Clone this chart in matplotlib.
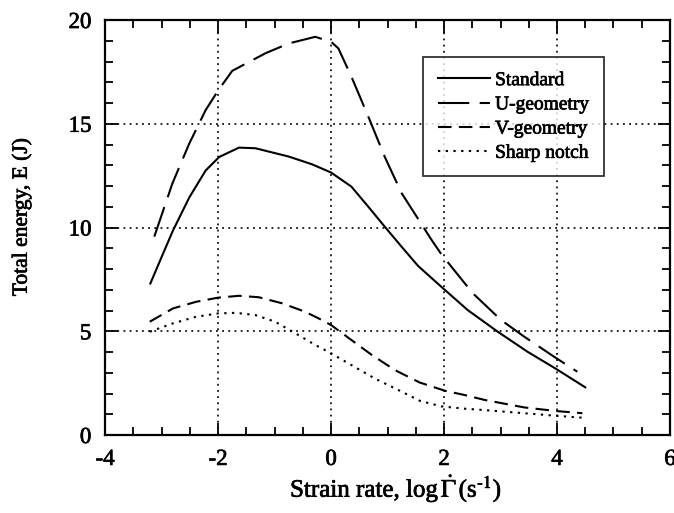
import matplotlib
matplotlib.use('Agg')
import matplotlib.pyplot as plt
import matplotlib.patheffects as pe
from matplotlib.ticker import MultipleLocator

plt.rcParams['font.family'] = 'Liberation Serif'
plt.rcParams['mathtext.fontset'] = 'stix'

# curves: log strain rate vs total energy (J)
std_x = [-3.2, -2.95, -2.8, -2.51, -2.22, -1.98, -1.63, -1.34, -0.75, -0.34, 0.0, 0.36, 0.66, 0.95,
         1.25, 1.54, 1.97, 2.42, 2.95, 3.48, 3.97, 4.5]
std_y = [7.3, 8.9, 9.85, 11.45, 12.75, 13.4, 13.85, 13.82, 13.42, 13.05, 12.65, 11.97, 11.0, 10.04,
         9.07, 8.15, 7.1, 6.02, 4.98, 4.01, 3.21, 2.3]

u_x = [-3.13, -2.81, -2.51, -2.22, -2.0, -1.75, -1.16, -0.75, -0.28, 0.0, 0.13, 0.36, 0.66, 0.95,
       1.25, 1.78, 1.95, 2.51, 3.01, 3.42, 3.95, 4.36]
u_y = [9.56, 12.12, 14.05, 15.66, 16.6, 17.55, 18.4, 18.87, 19.19, 18.95, 18.63, 17.27, 15.34, 13.41,
       11.65, 9.4, 8.72, 6.83, 5.54, 4.74, 3.77, 3.05]

v_x = [-3.21, -2.8, -2.39, -2.0, -1.63, -1.28, -0.87, -0.46, -0.22, 0.0, 0.36, 0.72, 1.13, 1.57,
       2.02, 2.36, 2.72, 3.42, 3.97, 4.45]
v_y = [5.46, 6.1, 6.42, 6.62, 6.71, 6.64, 6.35, 5.94, 5.62, 5.3, 4.58, 3.86, 3.13, 2.53,
       2.13, 1.93, 1.69, 1.33, 1.16, 1.05]

sn_x = [-3.21, -2.8, -2.39, -2.0, -1.69, -1.34, -0.99, -0.63, -0.28, 0.0, 0.36, 0.77, 1.19, 1.57,
        1.95, 2.36, 2.72, 3.42, 3.97, 4.47]
sn_y = [4.98, 5.38, 5.7, 5.86, 5.89, 5.78, 5.46, 4.9, 4.34, 3.94, 3.37, 2.73, 2.17, 1.65,
        1.38, 1.27, 1.2, 1.05, 0.93, 0.83]

ink = [pe.withStroke(linewidth=0.5, foreground='black')]

fig = plt.figure(figsize=(6.74, 5.13), dpi=100)
ax = fig.add_axes([0.156, 0.152, 0.838, 0.809])

ax.plot(std_x, std_y, color='black', lw=1.5, ls='-', label='Standard')
ax.plot(u_x, u_y, color='black', lw=1.5, ls=(0, (15, 5)), label='U-geometry')
ax.plot(v_x, v_y, color='black', lw=1.5, ls=(0, (6.5, 3.5)), label='V-geometry')
ax.plot(sn_x, sn_y, color='black', lw=1.5, ls=(0, (1.1, 2.6)), label='Sharp notch')

ax.set_xlim(-4, 6)
ax.set_ylim(0, 20)
ax.xaxis.set_major_locator(MultipleLocator(2))
ax.xaxis.set_minor_locator(MultipleLocator(0.5))
ax.yaxis.set_major_locator(MultipleLocator(5))
ax.yaxis.set_minor_locator(MultipleLocator(1))
ax.tick_params(which='both', direction='in', top=True, right=True, width=1.3, labelsize=16.5)
ax.tick_params(axis='x', which='both', pad=10)
ax.tick_params(axis='y', which='both', pad=10)
ax.tick_params(which='major', length=9)
ax.tick_params(which='minor', length=6)
ax.set_xticks([-4, -2, 0, 2, 4, 6])
ax.set_xticklabels(['-4', '-2', '0', '2', '4', '6'])
ax.grid(True, which='major', color='black', ls=(0, (1.1, 2.6)), lw=1.2)
for s in ax.spines.values():
    s.set_linewidth(1.6)
for t in ax.get_xticklabels() + ax.get_yticklabels():
    t.set_path_effects(ink)

ax.set_xlabel(r'Strain rate, log$\,\dot{\Gamma}\,$(s$^{\text{-}1}$)', fontsize=18, path_effects=ink)
ax.xaxis.set_label_coords(0.515, -0.09)
ax.set_ylabel('Total energy, E (J)', fontsize=15.5, path_effects=ink)
ax.yaxis.set_label_coords(-0.13, 0.525)

leg = ax.legend(loc='upper left', bbox_to_anchor=(0.563, 0.911), borderaxespad=0, fontsize=14,
                frameon=True, fancybox=False, edgecolor='black', handlelength=2.7, labelspacing=0.34,
                borderpad=0.75, handletextpad=0.25)
leg.get_frame().set_linewidth(1.3)
for t in leg.get_texts():
    t.set_path_effects(ink)

fig.savefig('out.png', dpi=100)
